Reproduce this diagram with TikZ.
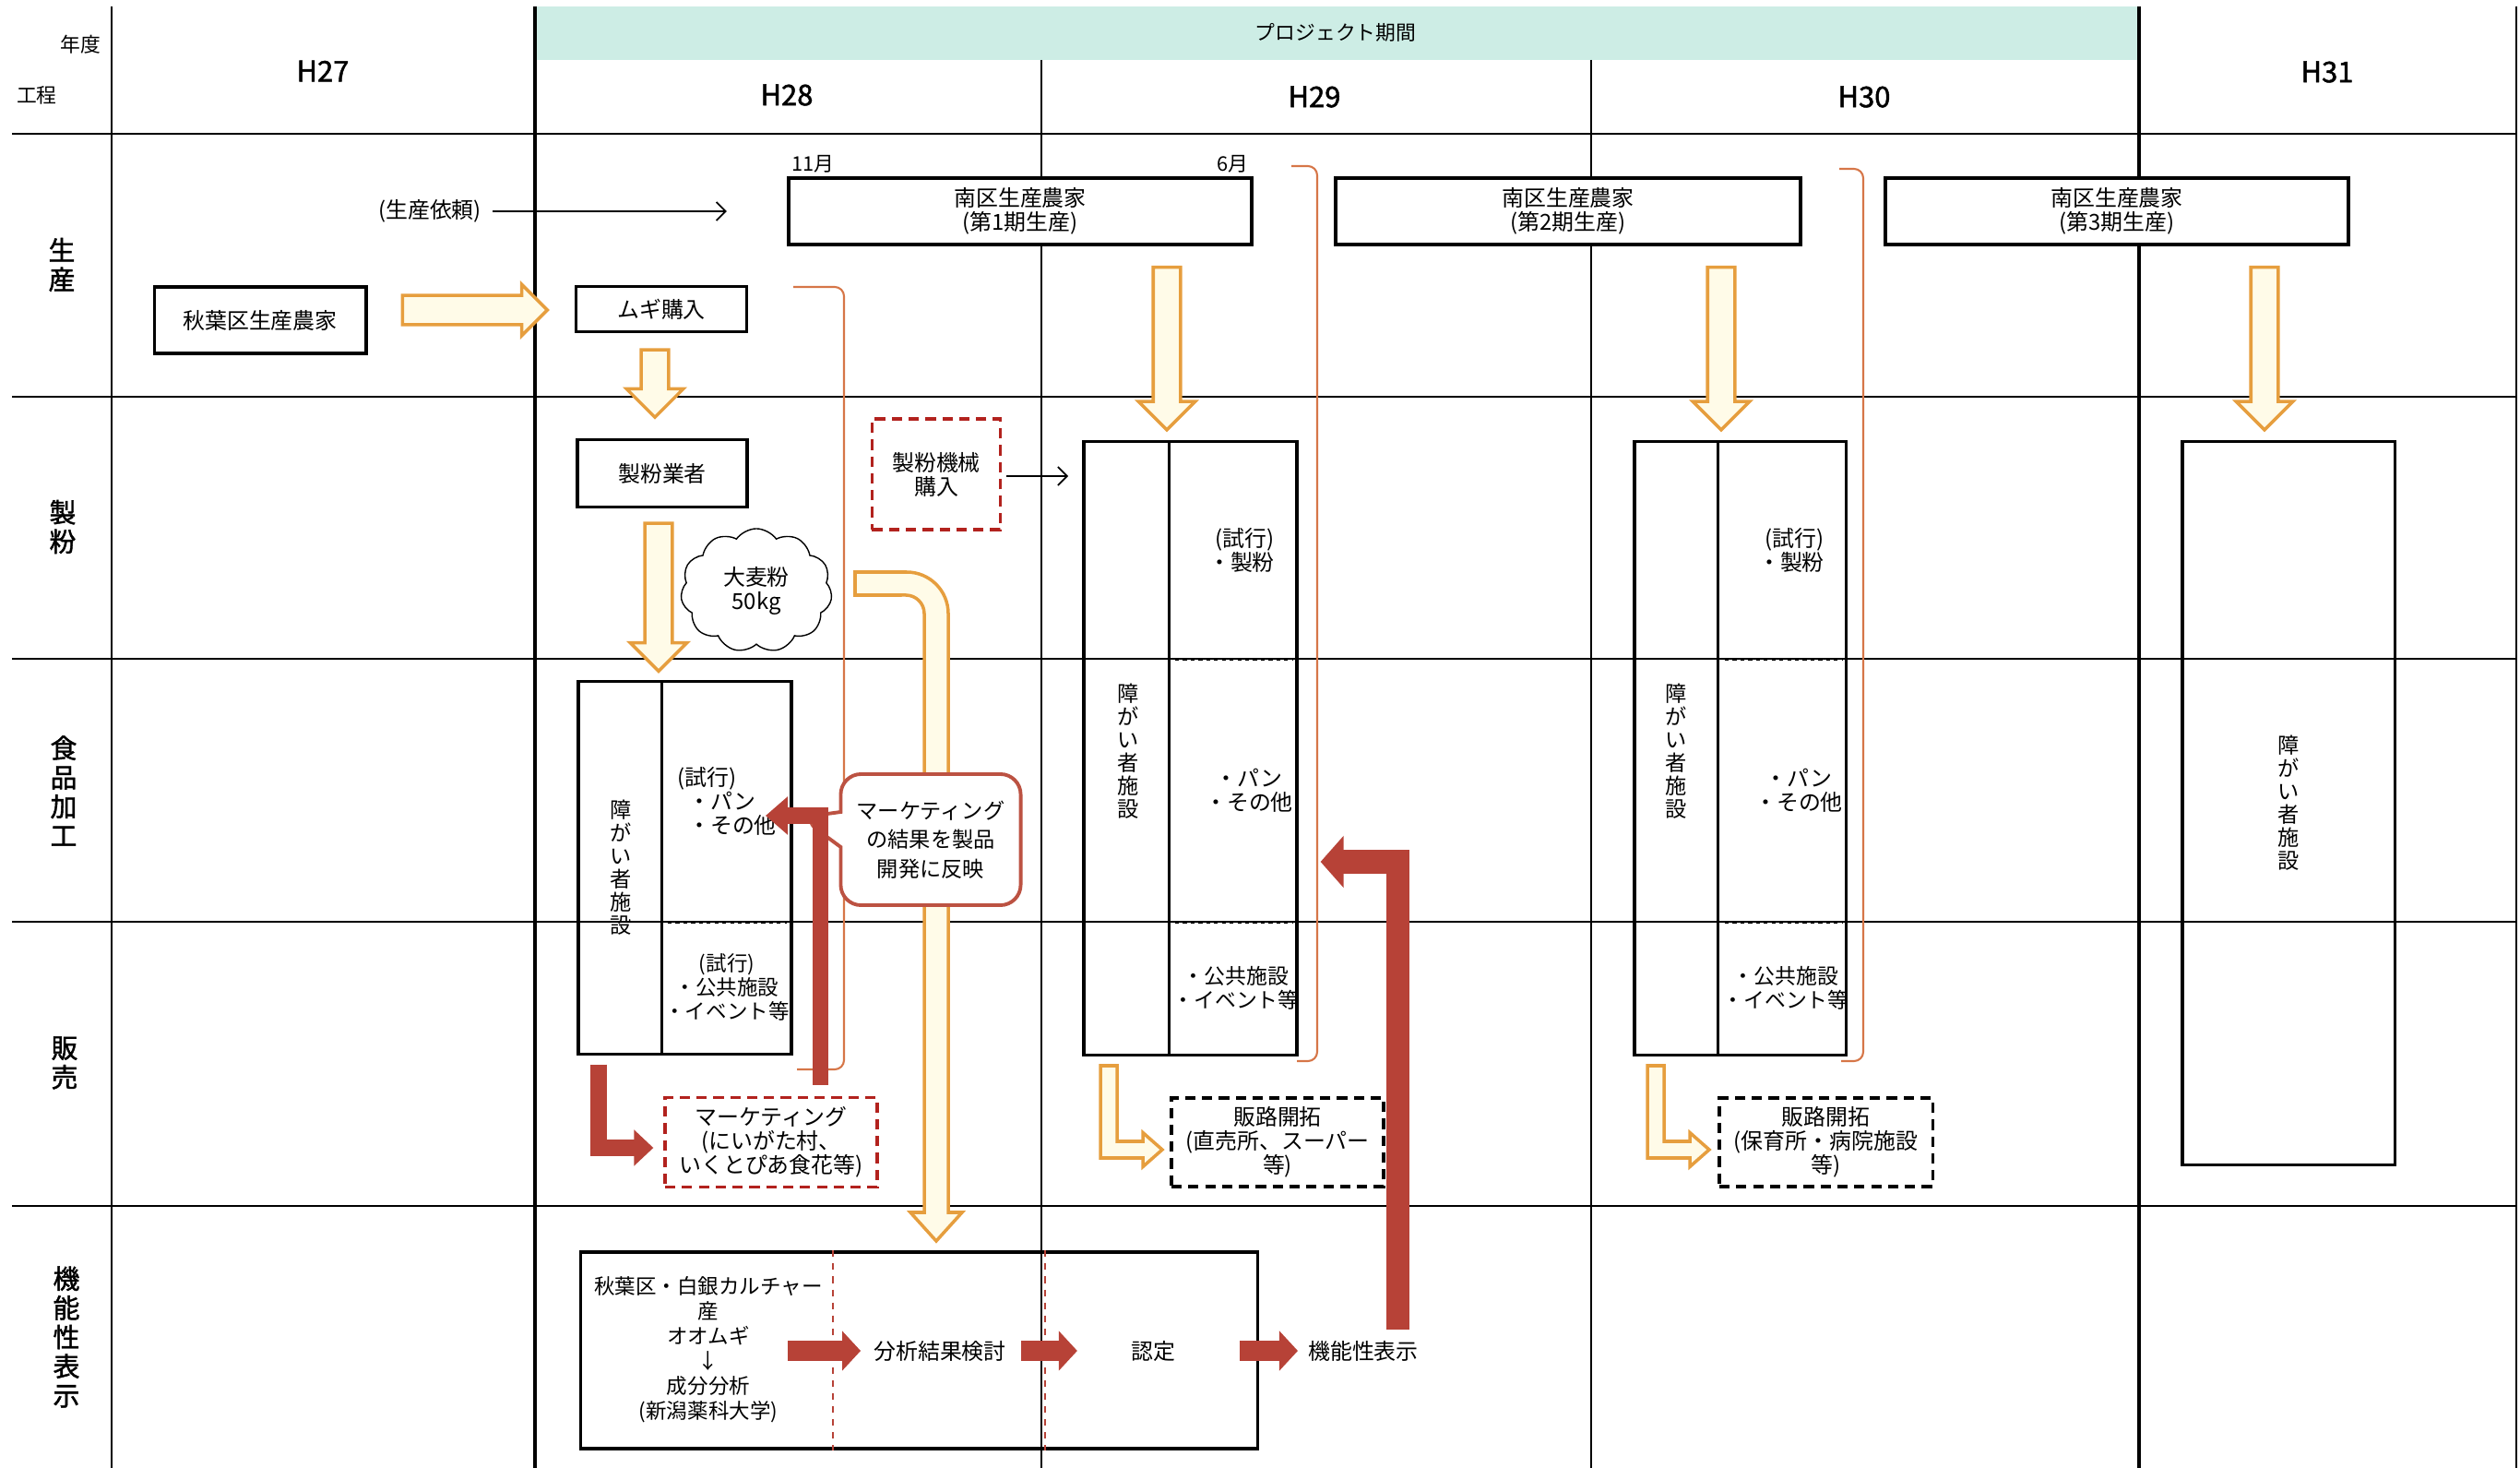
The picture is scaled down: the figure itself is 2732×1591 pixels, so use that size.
\documentclass[tikz,border=0pt]{standalone}
\usepackage{fontspec}
\setmainfont{Noto Sans CJK JP}
\newfontfamily\rowfont{Noto Sans CJK JP}[FakeBold=1.5]
\definecolor{planTeal}{RGB}{205,237,229}
\definecolor{planOrange}{RGB}{230,158,62}
\definecolor{planCream}{RGB}{255,251,232}
\definecolor{planBrick}{RGB}{183,66,55}
\definecolor{planRed}{RGB}{178,34,30}
\definecolor{planBubble}{RGB}{188,82,66}
\definecolor{planBracket}{RGB}{214,118,72}
\usetikzlibrary{arrows.meta,positioning,shapes.arrows,shapes.symbols,shapes.callouts,calc}

\begin{document}
\begin{tikzpicture}[x=0.01cm, y=-0.01cm,
  txt/.style={font=\fontsize{6.8}{7.4}\selectfont, align=center, inner sep=1pt},
  box/.style={draw, line width=1.1pt, fill=white, inner sep=0pt, txt},
  facbox/.style={draw, line width=0.9pt, inner sep=0pt},
  dashbox/.style={draw, line width=0.9pt, dash pattern=on 3.2pt off 2pt, fill=white, inner sep=0pt, txt},
  vtxt/.style={font=\fontsize{6.6}{7.1}\selectfont, align=center, inner sep=0pt},
  rowlab/.style={font=\rowfont\fontsize{8.2}{9}\selectfont, align=center},
  yearlab/.style={font=\rowfont\fontsize{8.8}{10}\selectfont},
  small/.style={font=\fontsize{6.2}{7}\selectfont, inner sep=1pt},
  hollow/.style={single arrow, draw=planOrange, fill=planCream, line width=1pt,
                 inner xsep=0pt, inner ysep=0.13cm, minimum width=0pt,
                 single arrow head extend=0.16cm, single arrow tip angle=90},
  hollowpath/.style={draw=planOrange, fill=planCream, line width=1pt},
  redarr/.style={planBrick, line width=0.18cm, -{Triangle[width=0.38cm, length=0.21cm]}},
  fatarr/.style={planBrick, line width=0.22cm, -{Triangle[width=0.42cm, length=0.2cm]}},
  thinarr/.style={line width=0.5pt, -{Straight Barb[length=0.1cm, width=0.2cm]}},
  bracket/.style={draw=planBracket, line width=0.6pt, rounded corners=0.1cm},
  gridline/.style={line width=0.6pt}
]
  \useasboundingbox (0,0) rectangle (2732,1591);

  \fill[planTeal] (580,7) rectangle (2318,65);
  \draw[line width=0.85pt] (13,145) -- (2729,145);
  \foreach \y in {430,714,999,1307} \draw[gridline] (13,\y) -- (2729,\y);
  \draw[line width=0.75pt] (121,7) -- (121,1591);
  \foreach \x in {580,2319} \draw[line width=1.2pt] (\x,7) -- (\x,1591);
  \foreach \x in {1129,1725} \draw[gridline] (\x,65) -- (\x,1591);
  \draw[gridline] (2728,7) -- (2728,1591);

  \node[small] (nendo)  at (87,48)  {年度};
  \node[small] (koutei) at (40,103) {工程};
  \node[small] (kikan)  at (1448,35) {プロジェクト期間};
  \node[yearlab] (h27) at (350,77)  {H27};
  \node[yearlab] (h28) at (853,103) {H28};
  \node[yearlab] (h29) at (1425,105) {H29};
  \node[yearlab] (h30) at (2021,105) {H30};
  \node[yearlab] (h31) at (2523,78)  {H31};

  \node[rowlab] (rseisan) at (67,287)  {生\\産};
  \node[rowlab] (rseifun) at (68,571)  {製\\粉};
  \node[rowlab] (rkakou)  at (69,857)  {食\\品\\加\\工};
  \node[rowlab] (rhanbai) at (70,1152) {販\\売};
  \node[rowlab] (rkinou)  at (72,1449) {機\\能\\性\\表\\示};

  \draw[bracket] (860,311) -- (915,311) -- (915,1159) -- (864,1159);
  \draw[bracket] (1400,180) -- (1428,180) -- (1428,1150) -- (1406,1150);
  \draw[bracket] (1994,183) -- (2020,183) -- (2020,1150) -- (1996,1150);

  \node[box, minimum width=5.02cm, minimum height=0.72cm] (minami1) at (1106,229) {南区生産農家\\(第1期生産)};
  \node[box, minimum width=5.03cm, minimum height=0.72cm] (minami2) at (1700,229) {南区生産農家\\(第2期生産)};
  \node[box, minimum width=5.02cm, minimum height=0.72cm] (minami3) at (2295,229) {南区生産農家\\(第3期生産)};
  \node[small, inner sep=0pt, above right=0.03cm and 0.05cm of minami1.north west] (nov) {11月};
  \node[small, inner sep=0pt, above left=0.03cm and 0.05cm of minami1.north east] (jun) {6月};
  \node[txt] (irai) at (466,229) {(生産依頼)};
  \draw[thinarr] ($(irai.east)+(8,0)$) -- ($(minami1.west)+(-65,0)$);

  \node[box, minimum width=2.29cm, minimum height=0.72cm] (akiha) at (282,347) {秋葉区生産農家};
  \node[box, minimum width=1.85cm, minimum height=0.49cm] (mugi) at (717,335) {ムギ購入};
  \node[box, minimum width=1.84cm, minimum height=0.73cm] (seifun) at (718,513) {製粉業者};
  \node[dashbox, draw=planRed, minimum width=1.39cm, minimum height=1.2cm] (kikai) at (1015,514) {製粉機械\\購入};
  \draw[thinarr] ($(kikai.east)+(5,2)$) -- ++(67,0);
  \node[cloud, draw, fill=white, cloud puffs=11, cloud puff arc=110, aspect=1.2,
        minimum width=1.64cm, minimum height=1.34cm, inner sep=0pt, txt] (mugiko) at (820,640) {大麦粉\\50kg};

  \node[hollow, inner ysep=0.14cm, single arrow head extend=0.12cm, minimum height=1.57cm, anchor=tail] (h1) at ($(akiha.east)+(36,-11)$) {};
  \node[hollow, rotate=-90, minimum height=0.73cm, anchor=tail] (h2) at ($(mugi.south)+(-7,16)$) {};
  \node[hollow, rotate=-90, minimum height=1.6cm, anchor=tail] (h3) at ($(seifun.south)+(-4,14)$) {};
  \node[hollow, rotate=-90, minimum height=1.76cm, anchor=tail] (h4) at ($(minami1.south)+(159,21)$) {};
  \node[hollow, rotate=-90, minimum height=1.76cm, anchor=tail] (h5) at ($(minami2.south)+(166,21)$) {};
  \node[hollow, rotate=-90, minimum height=1.76cm, anchor=tail] (h6) at ($(minami3.south)+(160,21)$) {};

  \node[facbox, minimum width=2.31cm, minimum height=4.03cm] (fac1) at (742.5,940.5) {};
  \node[facbox, minimum width=2.31cm, minimum height=6.64cm] (fac2) at (1290.5,811) {};
  \node[facbox, minimum width=2.29cm, minimum height=6.64cm] (fac3) at (1886.5,811) {};
  \node[facbox, minimum width=2.30cm, minimum height=7.83cm, vtxt] (fac4) at (2481,870.5) {障\\が\\い\\者\\施\\設};

  \draw[line width=0.7pt] ($(fac1.north west)+(92,0)$) -- ($(fac1.south west)+(92,0)$);
  \draw[line width=0.7pt] ($(fac2.north west)+(94,0)$) -- ($(fac2.south west)+(94,0)$);
  \draw[line width=0.7pt] ($(fac3.north west)+(92,0)$) -- ($(fac3.south west)+(92,0)$);
  \draw[line width=0.6pt, dash pattern=on 1.2pt off 1.2pt] (724,1000) -- (853,1000);
  \foreach \dx in {0,596} {
    \draw[line width=0.6pt, dash pattern=on 1.2pt off 1.2pt] (1274+\dx,715) -- (1401+\dx,715);
    \draw[line width=0.6pt, dash pattern=on 1.2pt off 1.2pt] (1274+\dx,1000) -- (1401+\dx,1000);
  }

  \node[vtxt] (f1v) at (673,940) {障\\が\\い\\者\\施\\設};
  \node[txt, align=left] (f1a) at (788,868) {(試行)\\\hspace{0.12cm}・パン\\\hspace{0.12cm}・その他};
  \node[txt, font=\fontsize{6.4}{7.4}\selectfont] (f1b) at (788,1070) {(試行)\\・公共施設\\・イベント等};
  \node[vtxt] (f2v) at (1223,814) {障\\が\\い\\者\\施\\設};
  \node[txt, align=right] (f2a) at (1346,596) {(試行)\\・製粉};
  \node[txt] (f2b) at (1354,857) {・パン\\・その他};
  \node[txt, font=\fontsize{6.5}{7.4}\selectfont] (f2c) at (1340,1071) {・公共施設\\・イベント等};
  \node[vtxt] (f3v) at (1817,814) {障\\が\\い\\者\\施\\設};
  \node[txt, align=right] (f3a) at (1942,596) {(試行)\\・製粉};
  \node[txt] (f3b) at (1950,857) {・パン\\・その他};
  \node[txt, font=\fontsize{6.5}{7.4}\selectfont] (f3c) at (1936,1071) {・公共施設\\・イベント等};

  \draw[hollowpath] (927,620) -- (983,620) arc[start angle=90, end angle=0, radius=0.45cm]
    -- (1028,1314) -- (1043,1314) -- (1015,1345) -- (987,1314) -- (1002,1314)
    -- (1002,665) arc[start angle=0, end angle=90, radius=0.2cm] -- (927,645) -- cycle;
  \foreach \dx in {0,593}
    \draw[hollowpath] (1193+\dx,1155) -- (1193+\dx,1255) -- (1239+\dx,1255) -- (1239+\dx,1264.5)
      -- (1260+\dx,1246) -- (1239+\dx,1227.5) -- (1239+\dx,1237) -- (1211+\dx,1237) -- (1211+\dx,1155) -- cycle;

  \node[rectangle callout, draw=planBubble, line width=1.1pt, fill=white, rounded corners=0.22cm,
        minimum width=1.95cm, minimum height=1.42cm, callout absolute pointer={(868,886)},
        callout pointer width=0.38cm, align=center, font=\fontsize{6.6}{9}\selectfont] (bubble) at (1009,910)
        {マーケティング\\の結果を製品\\開発に反映};

  \node[dashbox, draw=planRed, minimum width=2.3cm, minimum height=0.97cm] (mkt) at (836,1238) {マーケティング\\(にいがた村、\\いくとぴあ食花等)};
  \node[dashbox, minimum width=2.3cm, minimum height=0.96cm] (hanro1) at (1385,1238) {販路開拓\\(直売所、スーパー\\等)};
  \node[dashbox, minimum width=2.31cm, minimum height=0.96cm] (hanro2) at (1979.5,1238) {販路開拓\\(保育所・病院施設\\等)};

  \node[facbox, minimum width=7.33cm, minimum height=2.13cm] (kinou) at (996.5,1463.5) {};
  \foreach \dx in {275,505}
    \draw[planBrick, line width=0.5pt, dash pattern=on 2pt off 2pt] ($(kinou.north west)+(\dx,0)$) -- ($(kinou.south west)+(\dx,0)$);
  \node[txt, font=\fontsize{6.4}{7.7}\selectfont] (seibun) at (768,1463) {秋葉区・白銀カルチャー\\産\\オオムギ\\↓\\成分分析\\(新潟薬科大学)};
  \node[txt] (bunseki) at (1019,1464) {分析結果検討};
  \node[txt] (nintei) at (1250,1464) {認定};
  \node[txt] (hyouji) at (1478,1464) {機能性表示};

  \coordinate (pantip) at (830,884);
  \draw[redarr, line width=0.17cm, -{Triangle[width=0.4cm, length=0.24cm]}] ($(mkt.north)+(53,-12)$) |- (pantip);
  \draw[redarr] ($(fac1.south west)+(24,10)$) |- ($(mkt.west)+(-11,6)$);
  \draw[redarr, line width=0.25cm, -{Triangle[width=0.55cm, length=0.25cm]}] ($(hyouji.center)+(37,-23)$) |- ($(fac2.east)+(24,123)$);
  \draw[fatarr] ($(bunseki.west)+(-89,0)$) -- ($(bunseki.west)+(-10,0)$);
  \draw[fatarr] ($(bunseki.east)+(12,0)$) -- ($(nintei.west)+(-54,0)$);
  \draw[fatarr] ($(nintei.east)+(66,0)$) -- ($(hyouji.west)+(-7,0)$);
\end{tikzpicture}
\end{document}
